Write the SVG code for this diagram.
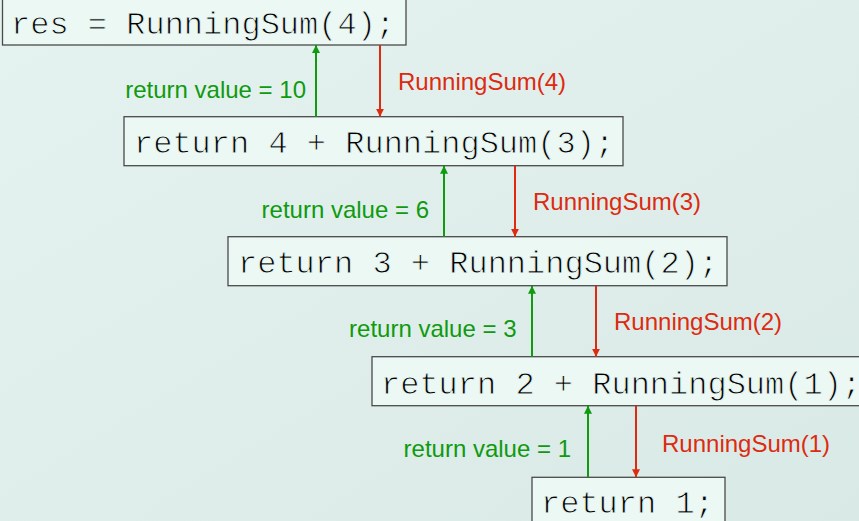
<svg xmlns="http://www.w3.org/2000/svg" width="859" height="521" viewBox="0 0 859 521">
  <defs>
    <linearGradient id="bg" x1="0" y1="0" x2="1" y2="1">
      <stop offset="0" stop-color="#e5f3f0"/>
      <stop offset="1" stop-color="#d9e9e6"/>
    </linearGradient>
    <marker id="headGreen" viewBox="0 0 8 8" refX="8" refY="4" markerWidth="8" markerHeight="8" markerUnits="userSpaceOnUse" orient="auto">
      <path d="M0,0 L8,4 L0,8 Z" fill="#0f9a0f"/>
    </marker>
    <marker id="headRed" viewBox="0 0 8 8" refX="8" refY="4" markerWidth="8" markerHeight="8" markerUnits="userSpaceOnUse" orient="auto">
      <path d="M0,0 L8,4 L0,8 Z" fill="#dd2a10"/>
    </marker>
  </defs>
  <style>
    .box { fill: #ebf8f4; stroke: #4a4a4a; stroke-width: 1.3; }
    /* a stroke in the box colour drawn over the glyphs gives a lighter, Courier-like weight */
    .code { font-family: "Liberation Mono", "Courier New", monospace; font-size: 32px; fill: #000; stroke: #ebf8f4; stroke-width: 0.9px; paint-order: fill; }
    .ret { stroke: #0f9a0f; stroke-width: 2; marker-end: url(#headGreen); }
    .call { stroke: #dd2a10; stroke-width: 2; marker-end: url(#headRed); }
    .retLabel { font-family: "Liberation Sans", Arial, sans-serif; font-size: 24px; fill: #0f9a0f; text-anchor: end; }
    .callLabel { font-family: "Liberation Sans", Arial, sans-serif; font-size: 24px; fill: #dd2a10; }
  </style>
  <rect width="859" height="521" fill="url(#bg)"/>

  <g id="call-main">
    <rect class="box" x="2.5" y="-5" width="403.5" height="50"/>
    <text class="code" x="11" y="33.5">res = RunningSum(4);</text>
  </g>
  <g id="call-4">
    <rect class="box" x="124" y="116.7" width="499" height="49"/>
    <text class="code" x="134" y="153">return 4 + RunningSum(3);</text>
  </g>
  <g id="call-3">
    <rect class="box" x="228" y="236.7" width="499" height="49"/>
    <text class="code" x="238" y="273">return 3 + RunningSum(2);</text>
  </g>
  <g id="call-2">
    <rect class="box" x="372" y="356.7" width="495" height="49"/>
    <text class="code" x="381" y="394">return 2 + RunningSum(1);</text>
  </g>
  <g id="call-1">
    <rect class="box" x="532" y="477.3" width="193" height="50"/>
    <text class="code" x="541" y="513">return 1;</text>
  </g>

  <g id="connectors">
    <line class="ret" x1="316" y1="116.7" x2="316" y2="45"/>
    <line class="call" x1="380" y1="45" x2="380" y2="116.7"/>
    <line class="ret" x1="444" y1="236.7" x2="444" y2="165.7"/>
    <line class="call" x1="515" y1="165.7" x2="515" y2="236.7"/>
    <line class="ret" x1="532" y1="356.7" x2="532" y2="285.7"/>
    <line class="call" x1="596" y1="285.7" x2="596" y2="356.7"/>
    <line class="ret" x1="588" y1="477.3" x2="588" y2="405.7"/>
    <line class="call" x1="636" y1="405.7" x2="636" y2="477.3"/>

    <text class="retLabel" x="306" y="98">return value = 10</text>
    <text class="callLabel" x="398" y="90">RunningSum(4)</text>
    <text class="retLabel" x="429" y="218">return value = 6</text>
    <text class="callLabel" x="533" y="210">RunningSum(3)</text>
    <text class="retLabel" x="516.5" y="337">return value = 3</text>
    <text class="callLabel" x="614" y="330">RunningSum(2)</text>
    <text class="retLabel" x="571" y="457">return value = 1</text>
    <text class="callLabel" x="662" y="452">RunningSum(1)</text>
  </g>
</svg>
